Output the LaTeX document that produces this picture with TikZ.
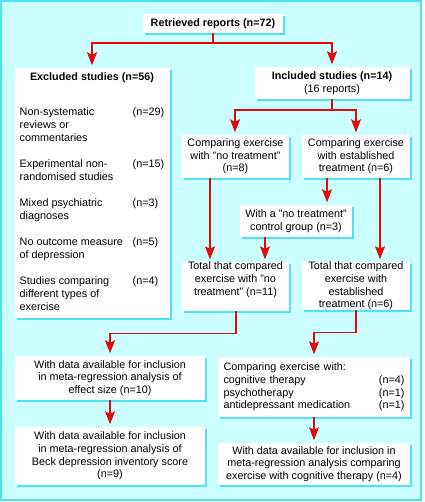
\documentclass[tikz,border=0pt]{standalone}
\usepackage{fontspec}
\setmainfont{Liberation Sans}
\usepackage{tikz}
\usetikzlibrary{arrows.meta}
\usetikzlibrary{shadows}
\definecolor{paleblue}{RGB}{204,255,255}
\definecolor{shadeblue}{RGB}{80,226,240}
\definecolor{arrowred}{RGB}{228,10,10}
\tikzset{box/.style={fill=white, inner sep=0pt, align=center,
    font=\fontsize{10.8}{12.7}\selectfont,
    general shadow={fill=shadeblue, shadow xshift=2pt, shadow yshift=-2pt}},
  link/.style={draw=arrowred, line width=1.3pt},
  arr/.style={link, -{Stealth[length=13pt,width=10pt,inset=2.5pt]}, shorten >=2.5pt}}

\begin{document}
\begin{tikzpicture}[x=1pt,y=-1pt]
      \useasboundingbox (0,0) rectangle (424,502);
      \fill[white] (0,0) rectangle (424,502);
      \fill[paleblue] (0,0) rectangle (422,501);
      \draw[shadeblue, line width=1.5pt] (1,1) rectangle (421,500);

      \node[box, minimum width=140pt, minimum height=19pt] (ret) at (213,23.5) {\bfseries Retrieved reports (n=72)};

      \node[box, minimum width=155pt, minimum height=250pt] (exc) at (92,193) {%
        \fontsize{10.8}{13}\selectfont
        \begin{tabular}{@{}p{113pt}@{}l@{}}
          \multicolumn{2}{@{}c@{}}{\bfseries Excluded studies (n=56)}\\[22pt]
          Non-systematic & (n=29)\\
          reviews or & \\
          commentaries & \\[13pt]
          Experimental non- & (n=15)\\
          randomised studies & \\[13pt]
          Mixed psychiatric & (n=3)\\
          diagnoses & \\[13pt]
          No outcome measure & (n=5)\\
          of depression & \\[13pt]
          Studies comparing & (n=4)\\
          different types of & \\
          exercise &
        \end{tabular}};

      \node[box, minimum width=155pt, minimum height=32pt] (inc) at (332,83) {\textbf{Included studies (n=14)}\\(16 reports)};

      \node[box, minimum width=107pt, minimum height=43pt] (cnt) at (235.5,156.5) {Comparing exercise\\with "no treatment"\\(n=8)};
      \node[box, minimum width=108pt, minimum height=43pt] (cest) at (356,156.5) {Comparing exercise\\with established\\treatment (n=6)};
      \node[box, minimum width=112pt, minimum height=32pt] (ctrl) at (296,221) {With a "no treatment"\\control group (n=3)};

      \node[box, minimum width=107pt, minimum height=47pt] (tnt) at (235.5,286.5) {Total that compared\\exercise with "no\\treatment" (n=11)\\[3pt]};
      \node[box, minimum width=108pt, minimum height=48pt] (test) at (356,286) {Total that compared\\exercise with\\established\\treatment (n=6)};

      \node[box, minimum width=190pt, minimum height=44pt] (es) at (110,378) {With data available for inclusion\\in meta-regression analysis of\\effect size (n=10)};
      \node[box, minimum width=190pt, minimum height=58pt] (bdi) at (110,456) {With data available for inclusion\\in meta-regression analysis of\\Beck depression inventory score\\(n=9)};

      \node[box, minimum width=192pt, minimum height=60pt, text width=181pt, align=left] (cmp) at (314,387) {Comparing exercise with:\\cognitive therapy\hfill(n=4)\\psychotherapy\hfill(n=1)\\antidepressant medication\hfill(n=1)};
      \node[box, minimum width=192pt, minimum height=42pt] (cog) at (314,464) {With data available for inclusion in\\meta-regression analysis comparing\\exercise with cognitive therapy (n=4)};

      % connectors
      \coordinate (split1) at (213,43);
      \coordinate (split2) at (332,110);
      \draw[link] (ret.south) -- (split1);
      \draw[arr] (split1) -| (exc.north);
      \draw[arr] (split1) -| (inc.north);
      \draw[link] (inc.south) -- (split2);
      \draw[arr] (split2) -| ([xshift=-0.5pt]cnt.north);
      \draw[arr] (split2) -| (cest.north);

      \draw[arr] ([xshift=-25.5pt]cnt.south) -- ([xshift=-25.5pt]tnt.north);
      \draw[arr] ([xshift=-29pt]cest.south) -- ([xshift=31pt]ctrl.north);
      \draw[arr] ([xshift=24pt]cest.south) -- ([xshift=24pt]test.north);
      \draw[arr] ([xshift=-31pt]ctrl.south) -- ([xshift=29.5pt]tnt.north);

      \draw[arr] ([xshift=0.5pt]tnt.south) -- ++(0,22) -| (es.north);
      \draw[arr] (test.south) -- ++(0,22) -| (cmp.north);
      \draw[arr] (es) -- (bdi);
      \draw[arr] (cmp) -- (cog);
\end{tikzpicture}
\end{document}
